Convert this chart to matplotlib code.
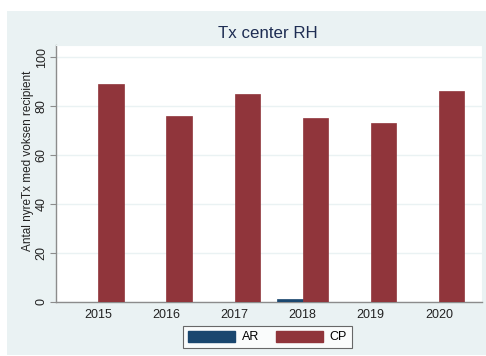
import matplotlib
matplotlib.use("Agg")
import matplotlib.pyplot as plt
from matplotlib.patches import Rectangle, Patch
import numpy as np

years = ["2015", "2016", "2017", "2018", "2019", "2020"]
ar_values = [0, 0, 0, 1, 0, 0]
cp_values = [89, 76, 85, 75, 73, 86]
series_names = ["AR", "CP"]
y_ticks = [0, 20, 40, 60, 80, 100]

AR_COLOR = "#1a476f"
CP_COLOR = "#90353b"
PANEL_BG = "#eaf2f3"
GRID_COLOR = "#eaf2f3"

plt.rcParams["font.family"] = ["Liberation Sans", "DejaVu Sans"]

W, H = 486, 356
fig = plt.figure(figsize=(W / 100, H / 100), dpi=100, facecolor="white")

# light graph region behind the plot area
fig.patches.append(Rectangle((7 / W, 1 / H), 1 - 7 / W, (355 - 11) / H,
                             transform=fig.transFigure, facecolor=PANEL_BG,
                             edgecolor="none", zorder=-10))

ax = fig.add_axes([56 / W, (H - 301.7) / H, 426 / W, 256.7 / H])
ax.set_facecolor("white")

x = np.arange(len(years))
bw = 0.374
ax.bar(x - bw / 2, ar_values, width=bw, color=AR_COLOR, edgecolor=AR_COLOR,
       linewidth=0.5, zorder=3, label=series_names[0])
ax.bar(x + bw / 2, cp_values, width=bw, color=CP_COLOR, edgecolor=CP_COLOR,
       linewidth=0.5, zorder=3, label=series_names[1])

ax.set_xlim(-0.621, 5.634)
ax.set_ylim(0, 105)
ax.set_xticks(x)
ax.set_xticklabels(years, fontsize=9, color="#222222")
ax.tick_params(axis="x", length=0, pad=5)
ax.set_yticks(y_ticks)
ax.set_yticklabels([str(v) for v in y_ticks], fontsize=9, color="#222222",
                   rotation=90, va="center")
ax.tick_params(axis="y", length=4, width=0.8, color="#8c8c8c", pad=2)

ax.grid(axis="y", color=GRID_COLOR, linewidth=1.0, zorder=1)
ax.set_axisbelow(True)

for side in ["top", "right"]:
    ax.spines[side].set_color(GRID_COLOR)
    ax.spines[side].set_linewidth(0.8)
for side in ["left", "bottom"]:
    ax.spines[side].set_color("#8c8c8c")
    ax.spines[side].set_linewidth(1.0)

ax.set_ylabel("Antal nyreTx med voksen recipient", fontsize=8.5,
              color="#222222")
ax.yaxis.set_label_coords(-0.052, 0.55)

fig.text(268 / W, 1 - 33 / H, "Tx center RH", ha="center", va="center",
         fontsize=12.2, color="#1e2d53")

handles = [Patch(facecolor=AR_COLOR, edgecolor=AR_COLOR),
           Patch(facecolor=CP_COLOR, edgecolor=CP_COLOR)]
leg = fig.legend(handles, series_names, loc="center",
                 bbox_to_anchor=(267.5 / W, 1 - 337 / H), ncol=2,
                 fontsize=9, frameon=True, fancybox=False,
                 handlelength=3.73, handleheight=0.98, handletextpad=0.53,
                 columnspacing=1.38, borderpad=0.4, borderaxespad=0)
leg.get_frame().set_edgecolor("#444444")
leg.get_frame().set_linewidth(0.8)
leg.get_frame().set_facecolor("white")

fig.savefig("out.png", dpi=100, facecolor="white")
